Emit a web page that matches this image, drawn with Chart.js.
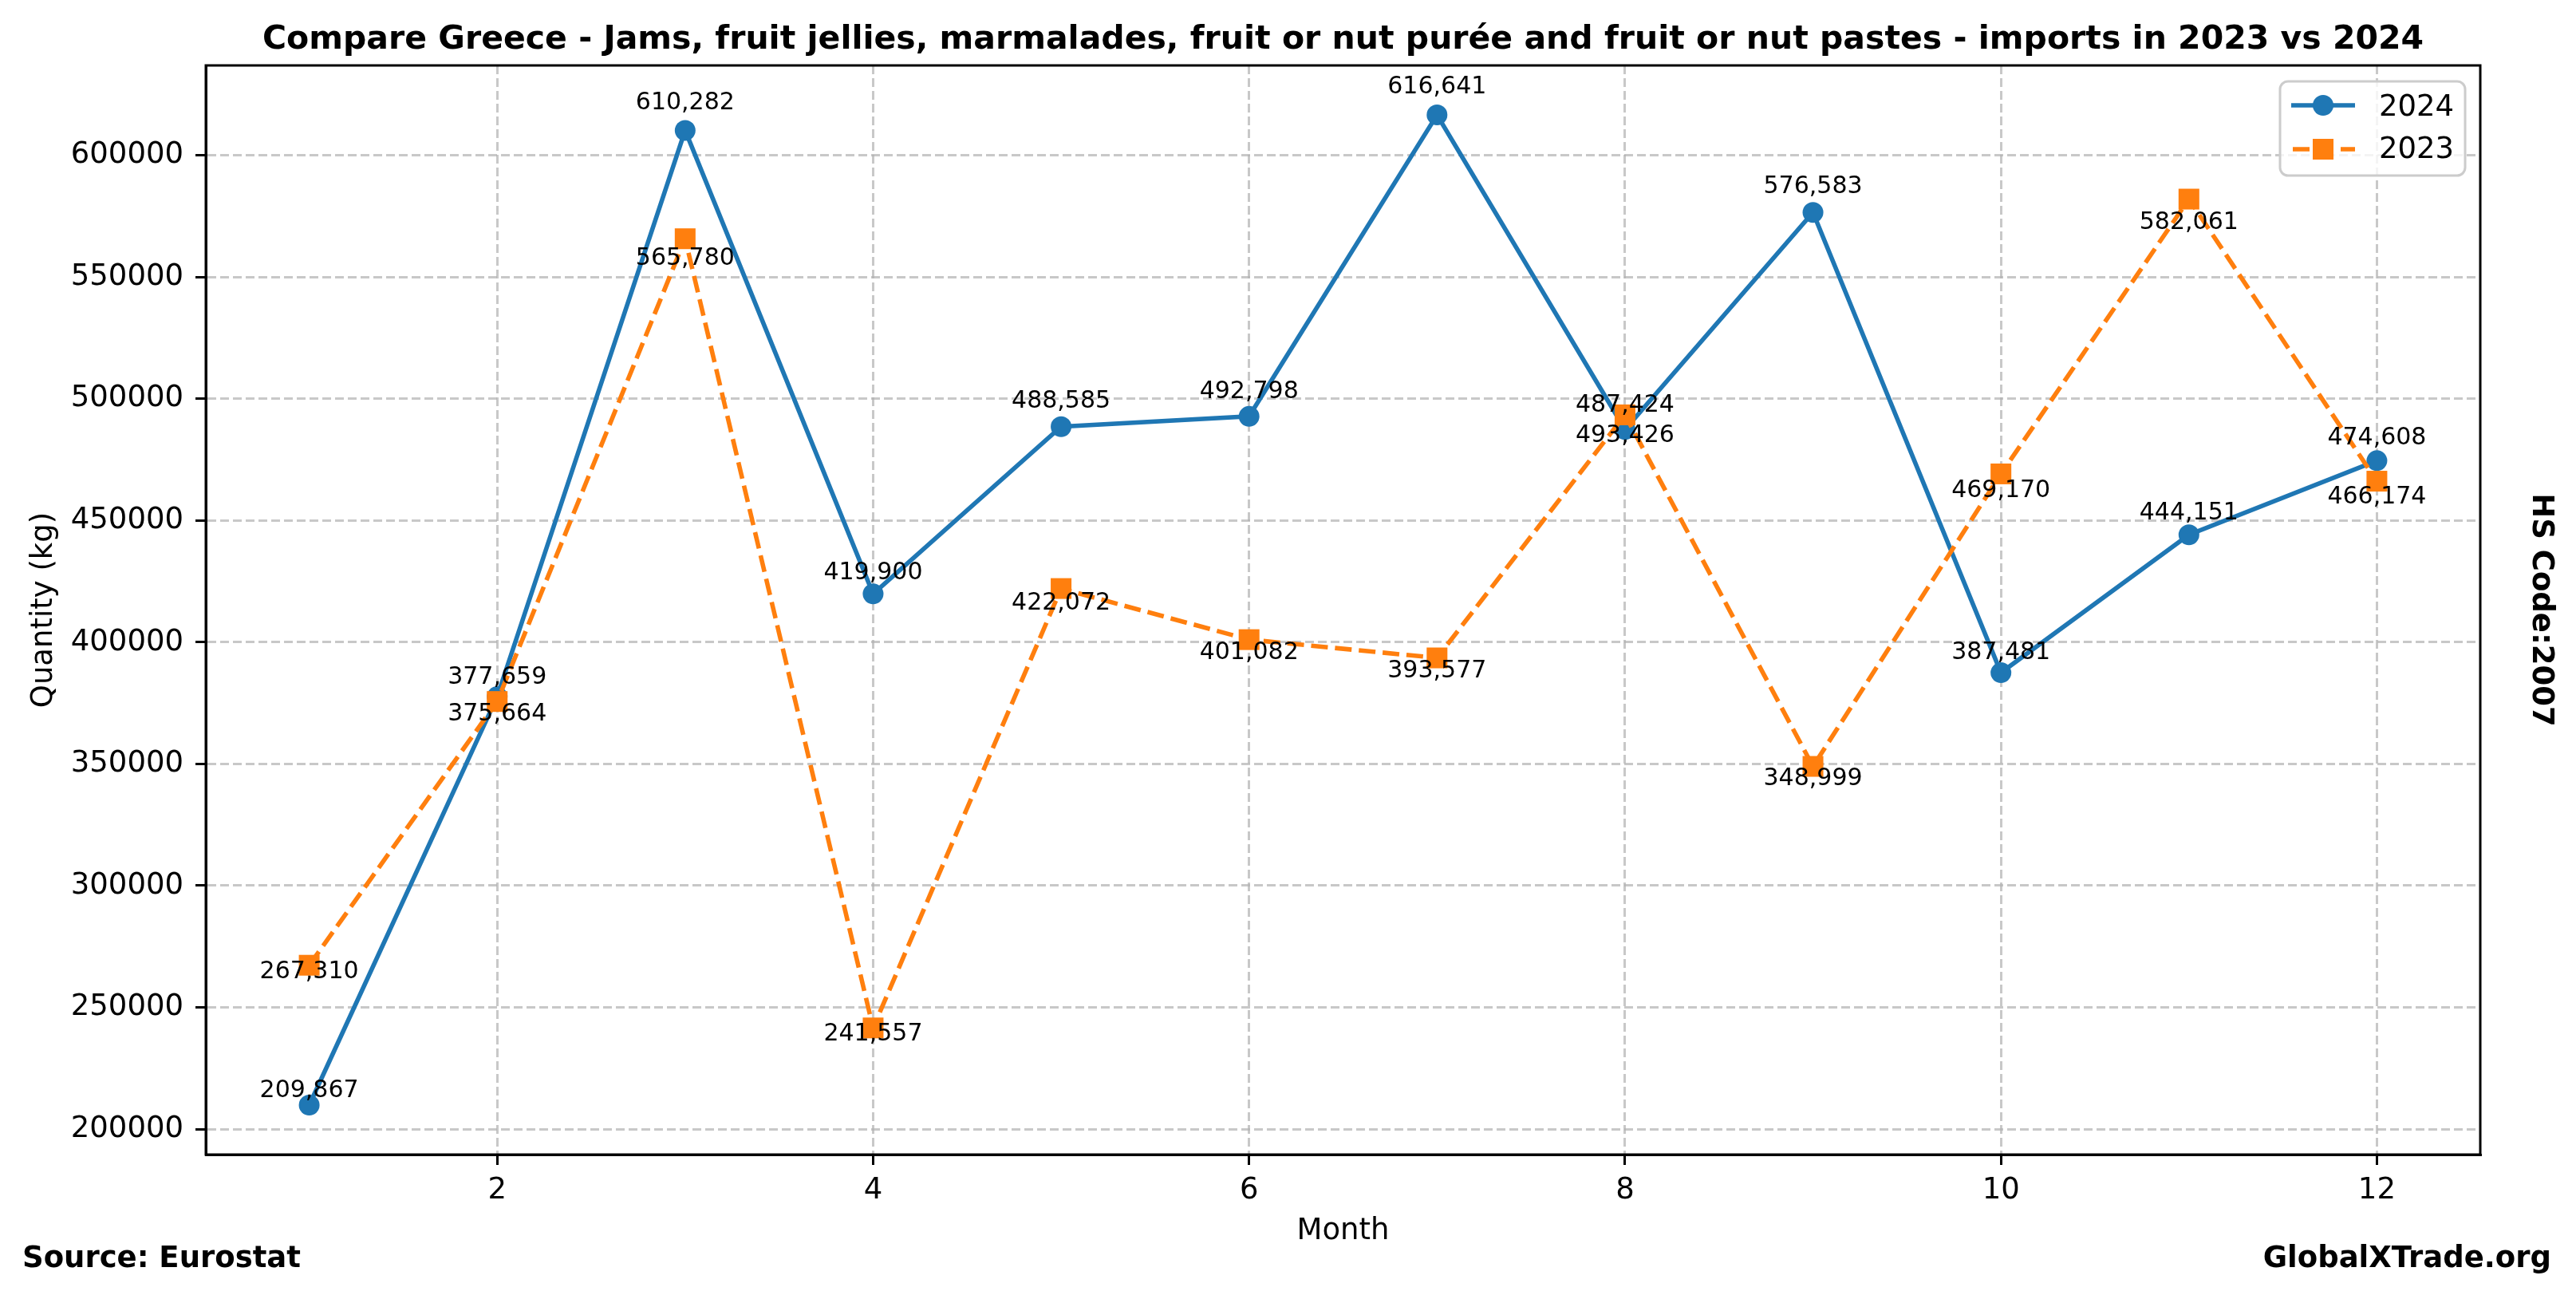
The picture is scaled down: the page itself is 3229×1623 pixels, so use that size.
<!DOCTYPE html>
<html><head><meta charset="utf-8">
<script src="https://cdn.jsdelivr.net/npm/chart.js@4.4.1/dist/chart.umd.min.js"></script>
<style>html,body{margin:0;padding:0;background:#fff}canvas{display:block}</style>
</head><body>
<canvas id="c" width="3229" height="1623"></canvas>
<script>
const months = [1,2,3,4,5,6,7,8,9,10,11,12];
const values2024 = [209867,377659,610282,419900,488585,492798,616641,487424,576583,387481,444151,474608];
const values2023 = [267310,375664,565780,241557,422072,401082,393577,493426,348999,469170,582061,466174];
const xTickValues = [2,4,6,8,10,12];
const yTickValues = [200000,250000,300000,350000,400000,450000,500000,550000,600000];
const seriesNames = ['2024','2023'];
const titleText = 'Compare Greece - Jams, fruit jellies, marmalades, fruit or nut purée and fruit or nut pastes - imports in 2023 vs 2024';
const xLabel = 'Month';
const yLabel = 'Quantity (kg)';
const sourceText = 'Source: Eurostat';
const siteText = 'GlobalXTrade.org';
const hsText = 'HS Code:2007';

// vertical nudges (px) of the value labels relative to their markers (label placement style)
const labelNudge2024 = [-21,-27,-37,-29,-35,-34,-38,-33,-35,-28,-30,-31];
const labelNudge2023 = [5,13,22,5,15,13,13,23,12,18,26,17];

const FONT = '"DejaVu Sans", sans-serif';
const BLUE = '#1f77b4', ORANGE = '#ff7f0e';

const allVals = values2024.concat(values2023);
const yMinD = Math.min(...allVals), yMaxD = Math.max(...allVals);
const yPad = (yMaxD - yMinD) * 0.05;
const xPad = (months[months.length-1] - months[0]) * 0.05;

const pts = (vals) => months.map((m, i) => ({x: m, y: vals[i]}));
const fmt = v => v.toLocaleString('en-US');

const PLOT = {left: 258, right: 3109, top: 82, bottom: 1447};

const decor = {
  id: 'decor',
  afterDatasetsDraw(chart) {
    const ctx = chart.ctx, a = chart.chartArea;
    ctx.save();
    ctx.strokeStyle = '#000'; ctx.lineWidth = 3; ctx.setLineDash([]);
    ctx.strokeRect(a.left, a.top, a.right - a.left, a.bottom - a.top);
    ctx.fillStyle = '#000';
    ctx.font = '30px ' + FONT;
    ctx.textAlign = 'center'; ctx.textBaseline = 'alphabetic';
    const m0 = chart.getDatasetMeta(0), m1 = chart.getDatasetMeta(1);
    // baseline = visual centre of digits + 11px
    m0.data.forEach((p, i) => ctx.fillText(fmt(values2024[i]), p.x, p.y + labelNudge2024[i] + 11));
    m1.data.forEach((p, i) => ctx.fillText(fmt(values2023[i]), p.x, p.y + labelNudge2023[i] + 11));
    ctx.restore();
  },
  afterDraw(chart) {
    const ctx = chart.ctx, a = chart.chartArea;
    ctx.save();
    ctx.fillStyle = '#000';
    ctx.font = 'bold 41px ' + FONT;
    ctx.textAlign = 'center'; ctx.textBaseline = 'alphabetic';
    ctx.fillText(titleText, (a.left + a.right) / 2, 61);
    ctx.font = '37px ' + FONT;
    ctx.fillText(xLabel, (a.left + a.right) / 2, 1553);
    ctx.save();
    ctx.translate(55, (a.top + a.bottom) / 2);
    ctx.rotate(-Math.PI / 2);
    ctx.textBaseline = 'middle';
    ctx.fillText(yLabel, 0, 0);
    ctx.restore();
    ctx.font = 'bold 37px ' + FONT;
    ctx.textAlign = 'left';
    ctx.fillText(sourceText, 28, 1588);
    ctx.textAlign = 'right';
    ctx.fillText(siteText, 3198, 1588);
    ctx.save();
    ctx.translate(3185, (a.top + a.bottom) / 2);
    ctx.rotate(Math.PI / 2);
    ctx.textAlign = 'center'; ctx.textBaseline = 'middle';
    ctx.fillText(hsText, 0, 0);
    ctx.restore();
    // legend
    const lx = 2858, ly = 102, lw = 232, lh = 118;
    ctx.beginPath();
    ctx.roundRect(lx, ly, lw, lh, 10);
    ctx.fillStyle = 'rgba(255,255,255,0.8)';
    ctx.fill();
    ctx.strokeStyle = '#cccccc'; ctx.lineWidth = 3;
    ctx.stroke();
    ctx.strokeStyle = BLUE; ctx.lineWidth = 5.6; ctx.setLineDash([]);
    ctx.beginPath(); ctx.moveTo(2872, 132); ctx.lineTo(2952, 132); ctx.stroke();
    ctx.fillStyle = BLUE;
    ctx.beginPath(); ctx.arc(2912, 132, 13, 0, Math.PI * 2); ctx.fill();
    ctx.strokeStyle = ORANGE; ctx.setLineDash([21, 9]);
    ctx.beginPath(); ctx.moveTo(2874, 187); ctx.lineTo(2952, 187); ctx.stroke();
    ctx.setLineDash([]);
    ctx.fillStyle = ORANGE;
    ctx.fillRect(2899, 174, 26, 26);
    ctx.fillStyle = '#000';
    ctx.font = '37px ' + FONT;
    ctx.textAlign = 'left'; ctx.textBaseline = 'alphabetic';
    ctx.fillText(seriesNames[0], 2982, 145);
    ctx.fillText(seriesNames[1], 2982, 198);
    ctx.restore();
  }
};

const gridCommon = {
  color: 'rgba(176,176,176,0.7)', lineWidth: 3,
  tickLength: 13, tickColor: '#000', tickWidth: 3, tickBorderDash: []
};
const borderCommon = {display: true, color: '#000', width: 3, dash: [11, 5]};

new Chart(document.getElementById('c'), {
  type: 'line',
  data: {
    datasets: [
      {label: seriesNames[0], data: pts(values2024), borderColor: BLUE, backgroundColor: BLUE,
       borderWidth: 5.6, pointStyle: 'circle', pointRadius: 13, pointBorderWidth: 0,
       pointBackgroundColor: BLUE, tension: 0, order: 1, fill: false},
      {label: seriesNames[1], data: pts(values2023), borderColor: ORANGE, backgroundColor: ORANGE,
       borderWidth: 5.6, borderDash: [21, 9], pointStyle: 'rect', pointRadius: 18.4, pointBorderWidth: 0,
       pointBackgroundColor: ORANGE, tension: 0, order: 0, fill: false}
    ]
  },
  options: {
    responsive: false, animation: false, devicePixelRatio: 1,
    layout: {padding: {left: 0, top: PLOT.top, right: 3229 - PLOT.right, bottom: 0}},
    plugins: {legend: {display: false}, tooltip: {enabled: false}, title: {display: false}},
    scales: {
      x: {
        type: 'linear', min: months[0] - xPad, max: months[months.length-1] + xPad,
        afterBuildTicks: s => { s.ticks = xTickValues.map(v => ({value: v})); },
        afterFit: s => { s.height = 1623 - PLOT.bottom; },
        ticks: {callback: v => String(v), color: '#000', font: {family: FONT, size: 37}, padding: 10,
                maxRotation: 0, autoSkip: false},
        grid: gridCommon,
        border: borderCommon
      },
      y: {
        type: 'linear', min: yMinD - yPad, max: yMaxD + yPad,
        afterBuildTicks: s => { s.ticks = yTickValues.map(v => ({value: v})); },
        afterFit: s => { s.width = PLOT.left; },
        ticks: {callback: v => String(v), color: '#000', font: {family: FONT, size: 37}, padding: 15,
                autoSkip: false},
        grid: gridCommon,
        border: borderCommon
      }
    }
  },
  plugins: [decor]
});
</script>
</body></html>
